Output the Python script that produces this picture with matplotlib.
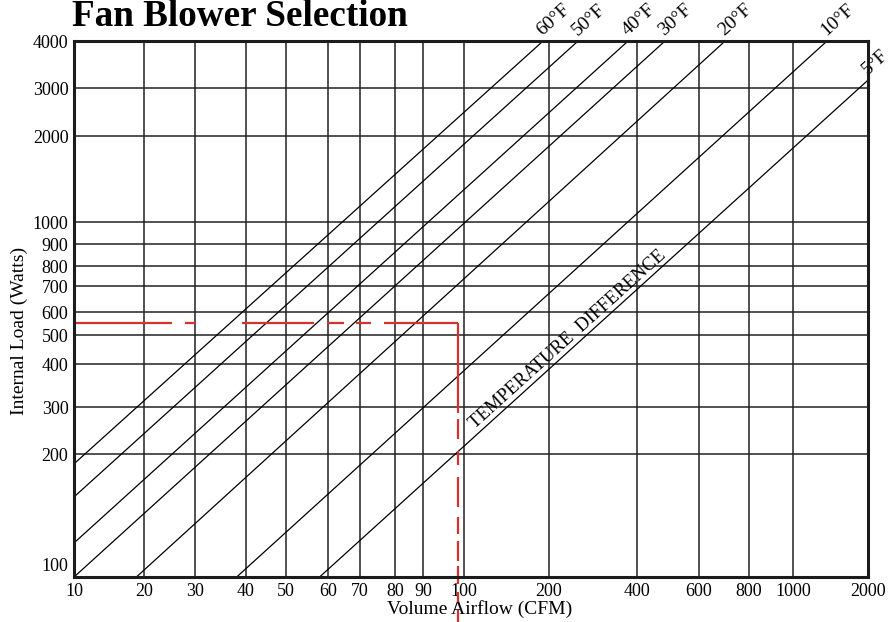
import numpy as np
import matplotlib
matplotlib.use("Agg")
import matplotlib.pyplot as plt

plt.rcParams['font.family'] = ['Liberation Serif', 'DejaVu Serif']
plt.rcParams['lines.scale_dashes'] = False

# The printed chart paper is not an even log grid, so the axes use the
# paper's own spacing: value -> fraction of axis length
x_cal_vals = [10, 20, 30, 40, 50, 60, 70, 80, 90, 100, 200, 400, 600, 800, 1000, 2000]
x_cal_frac = [0, 0.0885, 0.1524, 0.2162, 0.2670, 0.3195, 0.3602, 0.4043, 0.4395,
              0.4912, 0.5982, 0.7091, 0.7872, 0.8501, 0.9055, 1]
y_cal_vals = [92, 100, 200, 300, 400, 500, 600, 700, 800, 900, 1000, 2000, 3000, 4000]
y_cal_frac = [0, 0.0243, 0.2295, 0.3172, 0.3974, 0.4515, 0.4944, 0.5429, 0.5802,
              0.6213, 0.6623, 0.8228, 0.9123, 1]

x_ticks = [10, 20, 30, 40, 50, 60, 70, 80, 90, 100, 200, 400, 600, 800, 1000, 2000]
y_ticks = [100, 200, 300, 400, 500, 600, 700, 800, 900, 1000, 2000, 3000, 4000]

# temperature difference lines (start / end)
temps = ['60°F', '50°F', '40°F', '30°F', '20°F', '10°F', '5°F']
start_cfm = [10, 10, 10, 10, 18.5, 38.0, 57.9]
start_watts = [188, 152.6, 114.2, 92, 92, 92, 92]
end_cfm = [190.5, 251.3, 372.6, 480, 697, 1369, 2000]
end_watts = [4000, 4000, 4000, 4000, 4000, 4000, 3150]

# example selection (red)
sel_cfm = 98.5
sel_watts = 550
sel_watts_end = 68


def paper_scale(vals, fracs):
    lv = np.log10(vals)
    fr = np.asarray(fracs, float)
    lo = (fr[1] - fr[0]) / (lv[1] - lv[0])
    hi = (fr[-1] - fr[-2]) / (lv[-1] - lv[-2])

    def fwd(v):
        l = np.log10(np.clip(np.asarray(v, float), 1e-6, None))
        out = np.interp(l, lv, fr)
        out = np.where(l < lv[0], fr[0] + (l - lv[0]) * lo, out)
        out = np.where(l > lv[-1], fr[-1] + (l - lv[-1]) * hi, out)
        return out

    def inv(f):
        f = np.asarray(f, float)
        l = np.interp(f, fr, lv)
        l = np.where(f < fr[0], lv[0] + (f - fr[0]) / lo, l)
        l = np.where(f > fr[-1], lv[-1] + (f - fr[-1]) / hi, l)
        return 10 ** l

    return fwd, inv


fig = plt.figure(figsize=(8.96, 6.22), dpi=100)
ax = fig.add_axes([0.0826, 0.0723, 0.8862, 0.8617])
ax.set_xscale('function', functions=paper_scale(x_cal_vals, x_cal_frac))
ax.set_yscale('function', functions=paper_scale(y_cal_vals, y_cal_frac))
ax.set_xlim(x_cal_vals[0], x_cal_vals[-1])
ax.set_ylim(y_cal_vals[0], y_cal_vals[-1])

ax.set_xticks(x_ticks)
ax.set_xticklabels([str(v) for v in x_ticks])
ax.set_yticks(y_ticks)
ax.set_yticklabels([str(v) for v in y_ticks])
ax.minorticks_off()
ax.tick_params(length=0, labelsize=13, pad=4)

# grid
for v in x_ticks[1:-1]:
    ax.axvline(v, color='#222222', lw=1.1, zorder=1)
for v in y_ticks[1:-1]:
    ax.axhline(v, color='#222222', lw=1.1, zorder=1)

# temperature lines
for t, x0, y0, x1, y1 in zip(temps, start_cfm, start_watts, end_cfm, end_watts):
    ax.plot([x0, x1], [y0, y1], color='black', lw=0.9, zorder=2)
    ax.annotate(t, (x1, y1), xytext=(1.5, 1.5), textcoords='offset points',
                rotation=42, rotation_mode='anchor', ha='left', va='bottom',
                fontsize=14, annotation_clip=False)

ax.annotate('TEMPERATURE  DIFFERENCE', (112, 238), xytext=(0, 1),
            textcoords='offset points', rotation=42, rotation_mode='anchor',
            ha='left', va='bottom', fontsize=13.5)

# red selection lines, dash lengths in pixels
red = '#d8302c'
h_dash = [98, 13, 11, 46, 72, 13, 17, 12, 15, 13, 80]
v_dash = [90, 6, 20, 12, 14, 12, 30, 10, 17, 7, 20, 5, 18, 8, 10, 8, 40]
ax.plot([x_cal_vals[0], sel_cfm], [sel_watts, sel_watts], color=red, lw=1.6,
        dashes=[p * 0.72 for p in h_dash], clip_on=False, zorder=3)
ax.plot([sel_cfm, sel_cfm], [sel_watts, sel_watts_end], color=red, lw=1.6,
        dashes=[p * 0.72 for p in v_dash], clip_on=False, zorder=3)

for s in ax.spines.values():
    s.set_linewidth(2.2)
    s.set_color('#1c1c1c')
    s.set_zorder(4)

ax.set_xlabel('Volume Airflow (CFM)', fontsize=14)
ax.xaxis.set_label_coords(0.511, -0.043)
ax.set_ylabel('Internal Load (Watts)', fontsize=14)
ax.yaxis.set_label_coords(-0.058, 0.459)

fig.text(72 / 896, 1 - 26 / 622, 'Fan Blower Selection', fontsize=26.7,
         fontweight='bold', ha='left', va='baseline')

fig.savefig('out.png', dpi=100)
